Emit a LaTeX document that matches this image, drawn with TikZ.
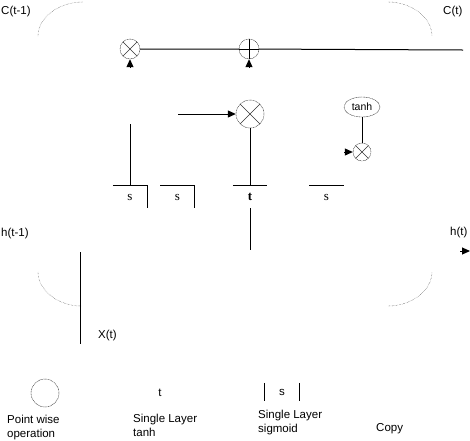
\documentclass[tikz,border=0pt]{standalone}
\usepackage{fontspec}
\setmainfont{Liberation Sans}
\newfontfamily\boxfont{Liberation Serif}
\usetikzlibrary{arrows.meta,shapes.geometric}

\begin{document}
\begin{tikzpicture}[
  x=1pt, y=-1pt,
  op/.style={circle, draw=black!85, dash pattern=on 1pt off 0.6pt, thin,
             inner sep=0pt, minimum size=20pt},
  mulop/.style={op, path picture={\draw[black!80, thin, solid]
      (path picture bounding box.south west) -- (path picture bounding box.north east)
      (path picture bounding box.north west) -- (path picture bounding box.south east);}},
  addop/.style={op, path picture={\draw[black, line width=0.9pt, solid]
      (path picture bounding box.south) -- (path picture bounding box.north)
      (path picture bounding box.west) -- (path picture bounding box.east);}},
  lbl/.style={font=\fontsize{11.5}{14}\selectfont, inner sep=0pt, anchor=west,
              align=left},
  layer/.style={font=\boxfont\fontsize{13}{14}\selectfont, inner sep=0pt,
                minimum width=34pt, minimum height=22pt},
  wire/.style={line width=1pt},
  tip/.style={line width=1pt, -{Triangle[length=8pt, width=7pt]}},
  loop/.style={black!80, densely dotted, thin},
]
  \useasboundingbox (0,0) rectangle (470,440);

  % --- cell state ---
  \node[lbl] (ctin)  at (1,12)   {C(t-1)};
  \node[lbl] (ctout) at (443,12) {C(t)};
  \node[mulop] (fmul) at (130,49) {};
  \node[addop] (cadd) at (249,49) {};
  \coordinate (cend) at (463,50);
  \coordinate (fin)  at (130,68);
  \coordinate (ain)  at (249,68);
  \draw[wire] (fmul) -- (cadd) -- (cend);
  \draw[tip] (fin) -- (fmul);
  \draw[tip] (ain) -- (cadd);

  % --- loops ---
  \draw[loop] (38,36) .. controls (38,18) and (58,2) .. (83,2);
  \draw[loop] (388,2) .. controls (412,2) and (432,18) .. (432,36);
  \draw[loop] (38,272) .. controls (38,290) and (58,306) .. (81,306);
  \draw[loop] (388,306) .. controls (412,306) and (432,290) .. (432,272);

  % --- gates ---
  \node[layer] (fgate) at (130,197)   {s};
  \node[layer] (igate) at (177.5,197) {s};
  \node[layer, font=\boxfont\bfseries\fontsize{13}{14}\selectfont] (cgate) at (250,197) {t};
  \node[layer] (ogate) at (326.5,197) {s};
  \draw[wire] (fgate.north west) -- (fgate.north east) -- (fgate.south east);
  \draw[wire] (igate.north west) -- (igate.north east) -- (igate.south east);
  \draw[wire] (cgate.north west) -- (cgate.north east);
  \draw[wire] (ogate.north west) -- (ogate.north east);

  \coordinate (ftop) at (130,124);
  \draw[wire] (ftop) -- (fgate.north);

  \node[mulop, minimum size=28pt] (imul) at (250,114) {};
  \coordinate (ifrom) at (178,114);
  \draw[tip] (ifrom) -- (imul.west);
  \draw[wire] (imul) -- (cgate.north);
  \coordinate (xbot) at (250,250);
  \draw[wire] (cgate.south) -- (xbot);

  % --- output ---
  \node[op, ellipse, minimum width=36pt, minimum height=20pt,
        font=\fontsize{10.5}{12}\selectfont] (otanh) at (362,107) {tanh};
  \node[mulop, minimum size=18pt] (omul) at (362,152) {};
  \draw[wire] (otanh) -- (omul);
  \coordinate (ofrom) at (344,152);
  \draw[tip] (ofrom) -- (omul);

  % --- hidden state and input ---
  \node[lbl] (htin)  at (1,234)   {h(t-1)};
  \node[lbl] (htout) at (450,233) {h(t)};
  \coordinate (hfrom) at (460,251);
  \coordinate (hto)   at (470,251);
  \draw[tip] (hfrom) -- (hto);
  \coordinate (xtop) at (80,252);
  \coordinate (xlow) at (80,344);
  \draw[wire] (xtop) -- (xlow);
  \node[lbl] (xin) at (98,336) {X(t)};

  % --- legend ---
  \node[op, minimum size=28pt] (lgop) at (45,393) {};
  \node[lbl] (lgoptxt) at (7,428) {Point wise\\operation};
  \node[font=\fontsize{11.5}{13}\selectfont, inner sep=0pt] (lgtanh) at (160,393) {t};
  \node[lbl] (lgtanhtxt) at (133,425) {Single Layer\\tanh};
  \node[font=\fontsize{11.5}{13}\selectfont, inner sep=0pt,
        minimum width=35pt, minimum height=18pt] (lgsig) at (282,392) {s};
  \draw[line width=0.8pt] (lgsig.north west) -- (lgsig.south west)
              (lgsig.north east) -- (lgsig.south east);
  \node[lbl] (lgsigtxt) at (258,423) {Single Layer\\sigmoid};
  \node[lbl] (lgcopy) at (376,429) {Copy};
\end{tikzpicture}
\end{document}
